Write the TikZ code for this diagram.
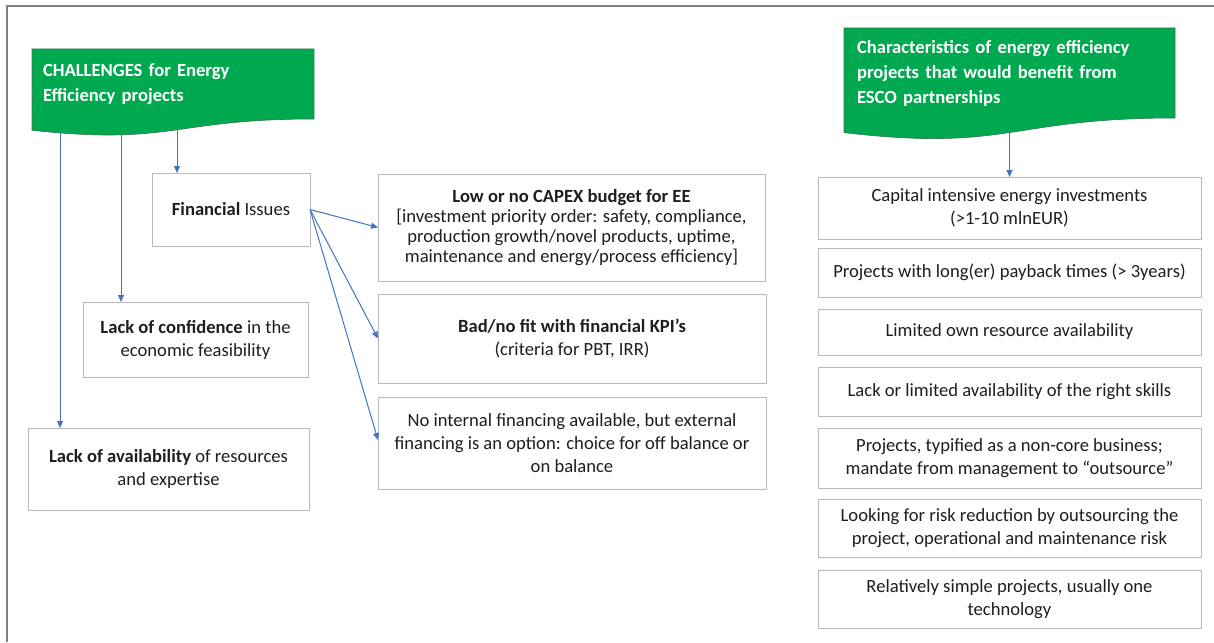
\documentclass[tikz,border=0pt]{standalone}
\usepackage{fontspec}
\setmainfont{Carlito}
\usetikzlibrary{arrows.meta,calc,backgrounds}

\definecolor{eegreen}{RGB}{0,168,80}
\definecolor{eeedge}{RGB}{60,115,80}
\definecolor{eeblue}{RGB}{68,114,196}
\definecolor{eegray}{RGB}{185,185,185}
\definecolor{eetext}{RGB}{30,30,30}

\begin{document}
\begin{tikzpicture}[x=1pt, y=-1pt,
	box/.style = {draw = eegray, line width = 1pt, text = eetext,
				  align = center, inner sep = 0pt, outer sep = 0pt,
				  font = \fontsize{18.6}{23}\selectfont},
	banner/.style = {anchor = north west, align = left, text = white,
					 inner ysep = 0pt, outer sep = 0pt,
					 font = \fontsize{18.6}{25}\selectfont\bfseries},
	link/.style = {draw = eeblue, line width = 1pt,
				   -{Triangle[length=7pt, width=6pt]}}]

	\useasboundingbox (0,0) rectangle (1214,642);
	\draw[gray, line width = 1.5pt] (7,642) -- (7,6) -- (1214,6);

	% green headers, the wavy bottom is filled behind the text
	\draw (32,49) node[banner,
					   inner xsep = 11pt,
					   text width = 260pt,
					   minimum height = 70pt] (chal) {CHALLENGES for Energy\\Efficiency projects};

	\draw (844,28) node[banner,
						inner xsep = 13pt,
						text width = 305pt,
						minimum height = 90pt] (chars) {Characteristics of energy efficiency\\projects that would benefit from\\ESCO partnerships};

	\begin{scope}[on background layer]
		\filldraw[fill = eegreen, draw = eeedge, line width = 0.6pt]
			(chal.north west) -- (chal.north east) -- (chal.south east)
			.. controls (chal.south) and ($(chal.south)+(0,26.5)$) .. ($(chal.south west)+(0,11.3)$) -- cycle;
		\filldraw[fill = eegreen, draw = eeedge, line width = 0.6pt]
			(chars.north west) -- (chars.north east) -- (chars.south east)
			.. controls (chars.south) and ($(chars.south)+(0,34)$) .. ($(chars.south west)+(0,14.6)$) -- cycle;
	\end{scope}

	% challenges
	\draw (231,209.5) node[box,
						   minimum width = 158pt,
						   minimum height = 73pt] (fin) {\textbf{Financial} Issues};

	\draw (195.5,339.5) node[box,
							 minimum width = 225pt,
							 minimum height = 75pt] (conf) {\textbf{Lack of confidence} in the\\economic feasibility};

	\draw (168.5,469) node[box,
						   minimum width = 281pt,
						   minimum height = 82pt] (avail) {\textbf{Lack of availability} of resources\\and expertise};

	\draw (571.5,227.5) node[box,
							 minimum width = 387pt,
							 minimum height = 107pt,
							 font = \fontsize{18.6}{20}\selectfont] (capex) {\textbf{Low or no CAPEX budget for EE}\\{[}investment priority order: safety, compliance,\\production growth/novel products, uptime,\\maintenance and energy/process efficiency{]}};

	\draw (572,338.5) node[box,
						   minimum width = 388pt,
						   minimum height = 89pt] (kpi) {\textbf{Bad/no fit with financial KPI's}\\(criteria for PBT, IRR)};

	\draw (572,443) node[box,
						 minimum width = 388pt,
						 minimum height = 92pt] (extfin) {No internal financing available, but external\\financing is an option: choice for off balance or\\on balance};

	% characteristics
	\draw (1009.5,208) node[box,
							minimum width = 383pt,
							minimum height = 62pt] (capital) {Capital intensive energy investments\\(>1-10 mlnEUR)};

	\draw (1009.5,272.5) node[box,
							  minimum width = 383pt,
							  minimum height = 49pt] (payback) {Projects with long(er) payback times (> 3years)};

	\draw (1009.5,332) node[box,
							minimum width = 383pt,
							minimum height = 46pt] (resource) {Limited own resource availability};

	\draw (1009.5,391.5) node[box,
							  minimum width = 383pt,
							  minimum height = 49pt] (skills) {Lack or limited availability of the right skills};

	\draw (1009.5,458) node[box,
							minimum width = 383pt,
							minimum height = 60pt] (noncore) {Projects, typified as a non-core business;\\mandate from management to “outsource”};

	\draw (1009.5,528) node[box,
							minimum width = 383pt,
							minimum height = 58pt] (risk) {Looking for risk reduction by outsourcing the\\project, operational and maintenance risk};

	\draw (1009.5,599) node[box,
							minimum width = 383pt,
							minimum height = 58pt] (simple) {Relatively simple projects, usually one\\technology};

	% arrows
	\coordinate (c1) at (60,133);
	\coordinate (c2) at (121,135);
	\coordinate (c3) at (177,130);
	\coordinate (c4) at (1009.5,133);

	\draw[link] (c1) -- (c1 |- avail.north);
	\draw[link] (c2) -- (c2 |- conf.north);
	\draw[link] (c3) -- (c3 |- fin.north);
	\draw[link] (c4) -- (capital.north);

	\draw[link] (fin.east) -- (capex.west);
	\draw[link] (fin.east) -- (kpi.west);
	\draw[link] (fin.east) -- ([yshift=3pt]extfin.west);
\end{tikzpicture}
\end{document}
